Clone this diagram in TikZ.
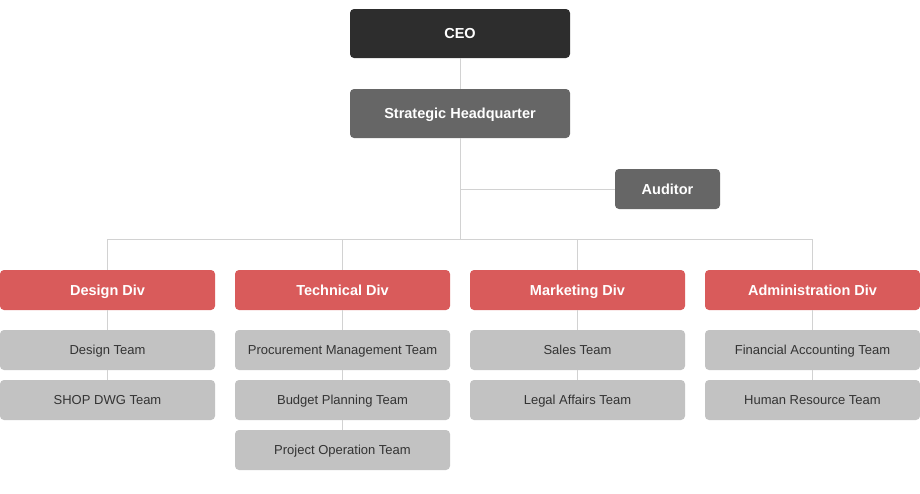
\documentclass[tikz,border=0pt]{standalone}
\usepackage{fontspec}
\setmainfont{Liberation Sans}
\begin{document}
\begin{tikzpicture}[x=1pt,y=1pt,
  box/.style={rounded corners=4pt, inner sep=0pt, anchor=center},
  bold/.style={text=white, font=\bfseries\fontsize{14.5}{16}\selectfont, text height=11.4pt, text depth=1pt},
  ceo/.style={box, bold, fill=ceoc, minimum width=220pt, minimum height=49pt},
  hq/.style={box, bold, fill=hqc, minimum width=220pt, minimum height=49pt},
  aud/.style={box, bold, fill=hqc, minimum width=105pt, minimum height=40pt},
  div/.style={box, bold, fill=divc, minimum width=215pt, minimum height=40pt},
  team/.style={box, fill=teamc, minimum width=215pt, minimum height=40pt, text=teamt, font=\fontsize{13}{15}\selectfont, text height=10.3pt, text depth=1pt},
  link/.style={draw=linec, line width=1pt}
]
\definecolor{ceoc}{HTML}{2D2D2D}
\definecolor{hqc}{HTML}{666666}
\definecolor{divc}{HTML}{D95B5B}
\definecolor{teamc}{HTML}{C2C2C2}
\definecolor{teamt}{HTML}{333333}
\definecolor{linec}{HTML}{D2D2D2}
\useasboundingbox (0,0) rectangle (920,-493);

\coordinate (bus) at (460,-239);
\coordinate (audj) at (460,-189);
\coordinate (b1) at (107.5,-239);
\coordinate (b2) at (342.5,-239);
\coordinate (b3) at (577.5,-239);
\coordinate (b4) at (812.5,-239);

\node[ceo] (ceo) at (460,-33.5) {CEO};
\node[hq] (hq) at (460,-113.5) {Strategic Headquarter};
\node[aud] (aud) at (667.5,-189) {Auditor};

\node[div] (d1) at (107.5,-290) {Design Div};
\node[div] (d2) at (342.5,-290) {Technical Div};
\node[div] (d3) at (577.5,-290) {Marketing Div};
\node[div] (d4) at (812.5,-290) {Administration Div};

\node[team] (t11) at (107.5,-350) {Design Team};
\node[team] (t12) at (107.5,-400) {SHOP DWG Team};
\node[team] (t21) at (342.5,-350) {Procurement Management Team};
\node[team] (t22) at (342.5,-400) {Budget Planning Team};
\node[team] (t23) at (342.5,-450) {Project Operation Team};
\node[team] (t31) at (577.5,-350) {Sales Team};
\node[team] (t32) at (577.5,-400) {Legal Affairs Team};
\node[team] (t41) at (812.5,-350) {Financial Accounting Team};
\node[team] (t42) at (812.5,-400) {Human Resource Team};

\draw[link] (ceo.south) -- (hq.north);
\draw[link] (hq.south) -- (bus);
\draw[link] (audj) -- (aud.west);
\draw[link] (b1) -- (b4);
\draw[link] (b1) -- (d1.north);
\draw[link] (b2) -- (d2.north);
\draw[link] (b3) -- (d3.north);
\draw[link] (b4) -- (d4.north);
\draw[link] (d1.south) -- (t11.north);
\draw[link] (t11.south) -- (t12.north);
\draw[link] (d2.south) -- (t21.north);
\draw[link] (t21.south) -- (t22.north);
\draw[link] (t22.south) -- (t23.north);
\draw[link] (d3.south) -- (t31.north);
\draw[link] (t31.south) -- (t32.north);
\draw[link] (d4.south) -- (t41.north);
\draw[link] (t41.south) -- (t42.north);
\end{tikzpicture}
\end{document}
